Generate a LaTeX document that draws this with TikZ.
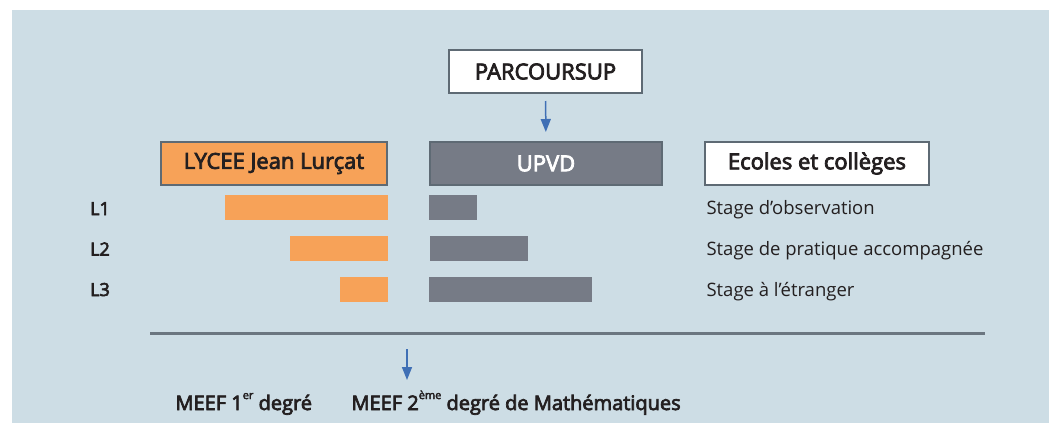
\documentclass[tikz,border=0pt]{standalone}
\usepackage{fontspec}
\setmainfont{Open Sans}[BoldFont={Open Sans}, BoldFeatures={FakeBold=3.5}]
\usetikzlibrary{arrows.meta}
\definecolor{bgblue}{HTML}{CDDDE5}
\definecolor{lyceeorange}{HTML}{F7A258}
\definecolor{upvdgrey}{HTML}{767B86}
\definecolor{boxline}{HTML}{5E6A74}
\definecolor{arrowblue}{HTML}{3F6FB5}
\definecolor{ruleline}{HTML}{6B7680}
\definecolor{txt}{HTML}{231F20}
\newcommand{\upper}[1]{\raisebox{0.55em}{\fontsize{11}{11}\selectfont #1}}
\tikzset{
	box/.style={draw=boxline, line width=1.5pt, minimum height=43pt, inner sep=0pt, outer sep=0pt,
		text=txt, font=\fontsize{22}{24}\selectfont\bfseries},
	flow/.style={draw=arrowblue, line width=1.5pt, -{Triangle[length=13pt,width=10pt,fill=arrowblue]}},
	level/.style={anchor=base, text=txt, font=\fontsize{18}{20}\selectfont\bfseries},
	stage/.style={anchor=base west, text=txt, font=\fontsize{18.5}{20}\selectfont},
	meef/.style={anchor=base west, text=txt, font=\fontsize{20}{22}\selectfont\bfseries}
}
\begin{document}
\begin{tikzpicture}[x=1pt,y=-1pt]
		\useasboundingbox[fill=white] (0,0) rectangle (1049,423);
		\fill[bgblue] (12,10) rectangle (1049,423);
		% boxes
		\node[box, fill=white, minimum width=193pt] (parcoursup) at (545.5,71.5) {PARCOURSUP};
		\node[box, fill=lyceeorange, minimum width=226pt] (lycee) at (274,163.5) {LYCEE Jean Lurçat};
		\node[box, fill=upvdgrey, text=white, minimum width=232pt] (upvd) at (546,163.5) {UPVD};
		\node[box, fill=white, minimum width=224pt] (ecoles) at (817,163.5) {Ecoles et collèges};
		\draw[flow, shorten <=8pt, shorten >=10pt] (parcoursup) -- (upvd);
		% years
		\node[level] (l1) at (100,215) {L1};
		\node[level] (l2) at (100,255.5) {L2};
		\node[level] (l3) at (100,296) {L3};
		\fill[lyceeorange] (225,195) rectangle (388,220);
		\fill[lyceeorange] (290,236) rectangle (388,261);
		\fill[lyceeorange] (340,277) rectangle (388,302);
		\fill[upvdgrey] (429,195) rectangle (477,220);
		\fill[upvdgrey] (430,236) rectangle (528,261);
		\fill[upvdgrey] (429,277) rectangle (592,302);
		\node[stage] (s1) at (703,214) {Stage d’observation};
		\node[stage] (s2) at (703,255) {Stage de pratique accompagnée};
		\node[stage] (s3) at (703,296) {Stage à l’étranger};
		% master
		\draw[ruleline, line width=3pt] (150,333) -- (985,333);
		\coordinate (from) at (407,349);
		\coordinate (to) at (407,380);
		\draw[flow] (from) -- (to);
		\node[meef] (meef1) at (172,410) {MEEF 1\upper{er} degré};
		\node[meef] (meef2) at (348,410) {MEEF 2\upper{ème} degré de Mathématiques};
	\end{tikzpicture}
\end{document}
